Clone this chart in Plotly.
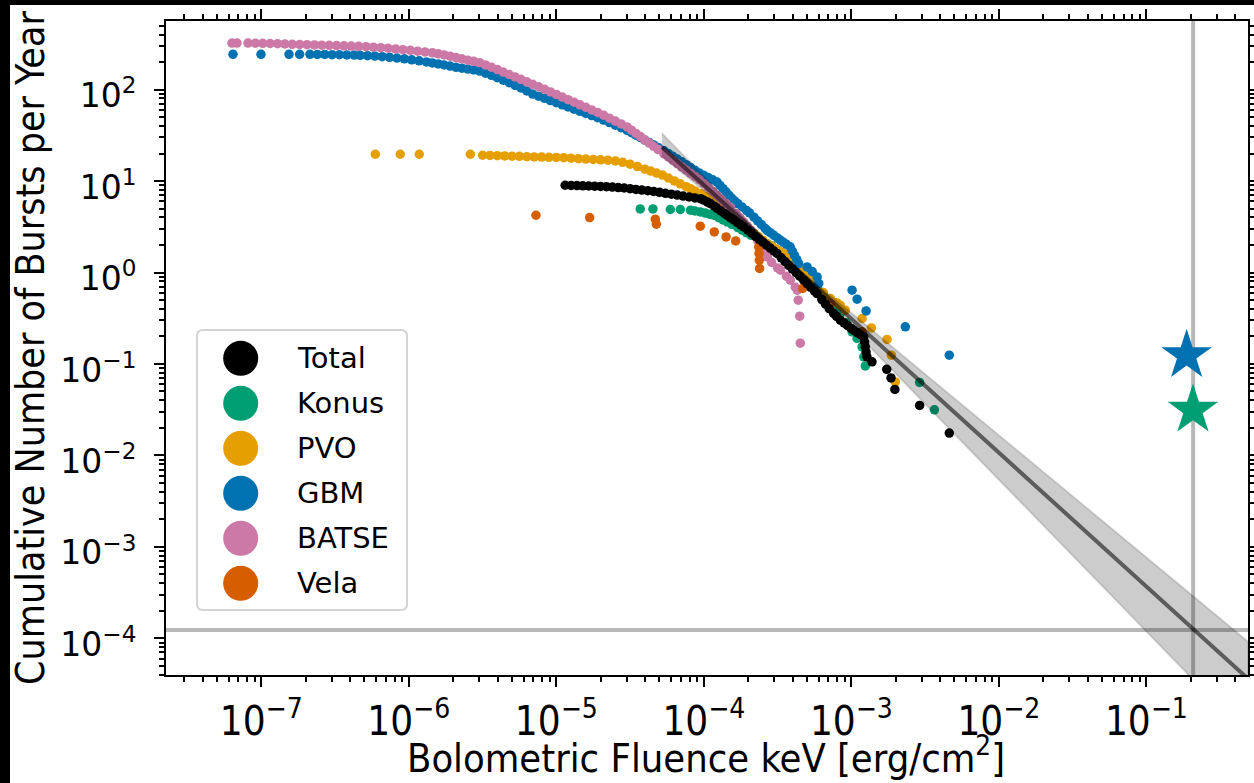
import numpy as np
import plotly.graph_objects as go

# values, stored as log10(fluence [erg/cm^2]) and log10(cumulative bursts / yr)
batse_logf = [-7.199, -7.165, -7.09, -7.04, -6.99, -6.94, -6.89, -6.84, -6.79, -6.74, -6.69, -6.64,
              -6.59, -6.54, -6.49, -6.44, -6.39, -6.34, -6.29, -6.24, -6.19, -6.14, -6.09, -6.04,
              -5.99, -5.94, -5.89, -5.84, -5.80, -5.76, -5.72, -5.68, -5.64, -5.60, -5.56, -5.52,
              -5.48, -5.44, -5.40, -5.36, -5.32, -5.28, -5.24, -5.20, -5.16, -5.12, -5.08, -5.04,
              -5.00, -4.96, -4.92, -4.88, -4.84, -4.80, -4.76, -4.72, -4.68, -4.64, -4.60, -4.56,
              -4.52, -4.49, -4.46, -4.43, -4.40, -4.37, -4.34, -4.31, -4.27, -4.24, -4.21, -4.18,
              -4.15, -4.12, -4.09, -4.06, -4.03, -4.00, -3.97, -3.94, -3.91, -3.88, -3.85, -3.82,
              -3.78, -3.755, -3.73, -3.705, -3.68, -3.65, -3.635, -3.62, -3.60, -3.585, -3.57,
              -3.54, -3.50, -3.48, -3.44, -3.414, -3.38, -3.366, -3.360, -3.350, -3.346]
batse_logn = [2.509, 2.509, 2.509, 2.508, 2.506, 2.504, 2.502, 2.499, 2.495, 2.493, 2.491, 2.488,
              2.486, 2.484, 2.481, 2.479, 2.476, 2.473, 2.469, 2.464, 2.458, 2.452, 2.445, 2.437,
              2.429, 2.420, 2.412, 2.402, 2.391, 2.379, 2.365, 2.350, 2.336, 2.322, 2.309, 2.294,
              2.270, 2.245, 2.219, 2.192, 2.165, 2.139, 2.112, 2.085, 2.058, 2.031, 2.003, 1.975,
              1.947, 1.918, 1.890, 1.862, 1.834, 1.806, 1.778, 1.750, 1.720, 1.688, 1.656, 1.624,
              1.592, 1.556, 1.521, 1.486, 1.450, 1.415, 1.380, 1.344, 1.297, 1.262, 1.226, 1.191,
              1.156, 1.121, 1.086, 1.051, 1.016, 0.974, 0.930, 0.886, 0.842, 0.798, 0.754, 0.710,
              0.644, 0.598, 0.552, 0.506, 0.460, 0.392, 0.350, 0.309, 0.253, 0.212, 0.170,
              0.110, 0.050, 0.025, -0.040, -0.084, -0.160, -0.193, -0.303, -0.478, -0.773]

gbm_logf = [-7.192, -7.002, -6.812, -6.740, -6.67, -6.62, -6.57, -6.52, -6.47, -6.42, -6.37, -6.33,
            -6.28, -6.23, -6.18, -6.13, -6.08, -6.03, -5.98, -5.93, -5.88, -5.84, -5.80, -5.76,
            -5.72, -5.68, -5.64, -5.60, -5.56, -5.52, -5.48, -5.44, -5.40, -5.36, -5.32, -5.28,
            -5.24, -5.20, -5.16, -5.12, -5.08, -5.04, -5.00, -4.96, -4.92, -4.88, -4.84, -4.80,
            -4.76, -4.72, -4.68, -4.64, -4.60, -4.56, -4.52, -4.49, -4.46, -4.43, -4.40, -4.37,
            -4.34, -4.31, -4.27, -4.24, -4.21, -4.18, -4.15, -4.12, -4.09, -4.06, -4.03, -4.00,
            -3.97, -3.94, -3.91, -3.89, -3.87, -3.85, -3.83, -3.81, -3.79, -3.77, -3.74, -3.71,
            -3.69, -3.66, -3.635, -3.61, -3.585, -3.57, -3.55, -3.525, -3.50, -3.48, -3.46, -3.44,
            -3.415, -3.40, -3.385, -3.37, -3.357, -3.30, -3.265, -3.232, -3.221, -2.995, -2.961,
            -2.900, -2.634, -2.336]
gbm_logn = [2.386, 2.386, 2.386, 2.386, 2.386, 2.385, 2.384, 2.382, 2.381, 2.379, 2.377, 2.375,
            2.371, 2.366, 2.360, 2.353, 2.345, 2.336, 2.326, 2.315, 2.303, 2.292, 2.281, 2.269,
            2.257, 2.244, 2.234, 2.224, 2.215, 2.202, 2.180, 2.156, 2.130, 2.103, 2.075, 2.047,
            2.018, 1.985, 1.951, 1.928, 1.904, 1.880, 1.857, 1.833, 1.810, 1.786, 1.762, 1.739,
            1.716, 1.693, 1.667, 1.639, 1.611, 1.583, 1.554, 1.528, 1.501, 1.475, 1.448, 1.422,
            1.395, 1.368, 1.330, 1.300, 1.270, 1.240, 1.210, 1.179, 1.149, 1.118, 1.088, 1.063,
            1.038, 1.014, 0.989, 0.952, 0.917, 0.882, 0.846, 0.811, 0.781, 0.754, 0.716, 0.677,
            0.651, 0.605, 0.564, 0.524, 0.483, 0.459, 0.436, 0.406, 0.376, 0.352, 0.330, 0.308,
            0.281, 0.235, 0.187, 0.140, 0.098, 0.061, 0.010, -0.048, -0.120, -0.193, -0.292,
            -0.420, -0.594, -0.904]

pvo_logf = [-6.227, -6.058, -5.929, -5.583, -5.50, -5.45, -5.40, -5.35, -5.30, -5.25, -5.20, -5.15,
            -5.10, -5.05, -5.00, -4.95, -4.90, -4.85, -4.80, -4.75, -4.70, -4.65, -4.60, -4.55,
            -4.50, -4.45, -4.40, -4.36, -4.32, -4.28, -4.24, -4.20, -4.16, -4.12, -4.09, -4.06,
            -4.02, -3.98, -3.95, -3.92, -3.89, -3.86, -3.84, -3.81, -3.78, -3.75, -3.72, -3.69,
            -3.66, -3.63, -3.60, -3.57, -3.54, -3.51, -3.48, -3.46, -3.43, -3.40, -3.37, -3.35,
            -3.32, -3.29, -3.26, -3.235, -3.19, -3.142, -3.10, -3.075, -3.041, -2.927, -2.864,
            -2.758, -2.729, -2.702]
pvo_logn = [1.293, 1.293, 1.293, 1.293, 1.282, 1.280, 1.277, 1.275, 1.272, 1.270, 1.267, 1.264,
            1.262, 1.260, 1.258, 1.255, 1.250, 1.245, 1.240, 1.236, 1.232, 1.228, 1.220, 1.205,
            1.185, 1.158, 1.130, 1.109, 1.087, 1.065, 1.032, 1.001, 0.970, 0.939, 0.916, 0.892,
            0.860, 0.828, 0.796, 0.764, 0.731, 0.699, 0.678, 0.635, 0.593, 0.552, 0.510, 0.469,
            0.430, 0.392, 0.353, 0.314, 0.286, 0.257, 0.228, 0.209, 0.161, 0.113, 0.064, 0.031,
            -0.017, -0.065, -0.114, -0.154, -0.220, -0.284, -0.330, -0.357, -0.412, -0.503, -0.606,
            -0.732, -0.904, -1.196]

konus_logf = [-4.431, -4.345, -4.227, -4.159, -4.09, -4.06, -4.024, -3.99, -3.96, -3.934, -3.90,
              -3.87, -3.84, -3.81, -3.77, -3.74, -3.71, -3.68, -3.63, -3.60, -3.57, -3.54, -3.50,
              -3.47, -3.44, -3.41, -3.37, -3.345, -3.32, -3.275, -3.25, -3.225, -3.20, -3.18,
              -3.14, -3.115, -3.09, -3.075, -3.035, -2.995, -2.961, -2.927, -2.916, -2.905,
              -2.537, -2.437]
konus_logn = [0.695, 0.695, 0.689, 0.689, 0.681, 0.673, 0.662, 0.650, 0.637, 0.626, 0.599,
              0.575, 0.551, 0.527, 0.491, 0.462, 0.434, 0.406, 0.363, 0.339, 0.315, 0.290, 0.244,
              0.204, 0.164, 0.123, 0.064, 0.024, -0.016, -0.095, -0.143, -0.190, -0.237, -0.275,
              -0.343, -0.384, -0.424, -0.448, -0.550, -0.649, -0.721, -0.813, -0.922, -1.021,
              -1.202, -1.502]

vela_logf = [-5.138, -4.774, -4.329, -4.322, -4.024, -3.929, -3.849, -3.784, -3.628, -3.626,
             -3.624, -3.622, -3.330, -3.142, -2.927]
vela_logn = [0.626, 0.601, 0.583, 0.528, 0.506, 0.444, 0.389, 0.345, 0.280, 0.208,
             0.134, 0.044, -0.175, -0.339, -0.649]

total_logf = [-4.94, -4.90, -4.86, -4.82, -4.78, -4.74, -4.70, -4.66, -4.62, -4.58, -4.54, -4.50,
              -4.46, -4.42, -4.38, -4.34, -4.30, -4.26, -4.22, -4.18, -4.14, -4.10, -4.06, -4.02,
              -4.00, -3.975, -3.956, -3.93, -3.91, -3.885, -3.86, -3.843, -3.82, -3.80, -3.775,
              -3.75, -3.730, -3.70, -3.675, -3.65, -3.625, -3.60, -3.575, -3.55, -3.525, -3.504,
              -3.475, -3.45, -3.425, -3.40, -3.375, -3.35, -3.323, -3.30, -3.275, -3.25, -3.233,
              -3.20, -3.175, -3.15, -3.12, -3.10, -3.075, -3.05, -3.025, -3.00, -2.984, -2.96,
              -2.94, -2.916, -2.910, -2.905, -2.900, -2.894, -2.860, -2.760, -2.731, -2.705,
              -2.537, -2.336]
total_logn = [0.954, 0.952, 0.950, 0.948, 0.946, 0.944, 0.941, 0.938, 0.934, 0.929, 0.924, 0.917,
              0.908, 0.901, 0.894, 0.886, 0.877, 0.866, 0.857, 0.847, 0.836, 0.826, 0.816, 0.806,
              0.790, 0.770, 0.754, 0.725, 0.702, 0.674, 0.646, 0.626, 0.600, 0.577, 0.549,
              0.521, 0.498, 0.460, 0.428, 0.395, 0.363, 0.331, 0.299, 0.267, 0.235, 0.208,
              0.161, 0.120, 0.079, 0.039, -0.001, -0.041, -0.084, -0.121, -0.162, -0.202, -0.230,
              -0.296, -0.346, -0.396, -0.448, -0.480, -0.521, -0.551, -0.581, -0.611, -0.631, -0.657,
              -0.678, -0.704, -0.760, -0.813, -0.870, -0.922, -0.977, -1.059, -1.153, -1.279,
              -1.454, -1.756]

# power-law fit and its band (polygon: steep edge / shallow edge crossing at the pivot)
fit_fluence = [5.2e-5, 0.49]
fit_rate = [23.6, 3.6e-5]
band_fluence = [5.2e-5, 3.05e-4, 0.49, 0.49, 3.05e-4, 5.2e-5]
band_rate = [33.4, 1.77, 9.2e-5, 8.5e-6, 1.77, 18.8]

# reference lines and the two events marked with stars
ref_fluence = 0.2075
ref_rate = 1.23e-4
star_fluence = [0.1875, 0.207]
star_rate = [0.124, 0.0313]
star_colors = ["#0072B2", "#009E73"]

legend_names = ["Total", "Konus", "PVO", "GBM", "BATSE", "Vela"]
legend_colors = ["#000000", "#009E73", "#E69F00", "#0072B2", "#CC79A7", "#D55E00"]

x_tickvals = [1e-7, 1e-6, 1e-5, 1e-4, 1e-3, 1e-2, 1e-1]
x_ticktext = ["10<sup>\u22127</sup>", "10<sup>\u22126</sup>", "10<sup>\u22125</sup>", "10<sup>\u22124</sup>",
              "10<sup>\u22123</sup>", "10<sup>\u22122</sup>", "10<sup>\u22121</sup>"]
y_tickvals = [1e-4, 1e-3, 1e-2, 1e-1, 1e0, 1e1, 1e2]
y_ticktext = ["10<sup>\u22124</sup>", "10<sup>\u22123</sup>", "10<sup>\u22122</sup>", "10<sup>\u22121</sup>",
              "10<sup>0</sup>", "10<sup>1</sup>", "10<sup>2</sup>"]

W, H = 1254, 783
L, R, T, B = 166, 6, 21, 108
pw, ph = W - L - R, H - T - B


def pxx(x):
    return (x - L) / pw


def pxy(y):
    return (H - B - y) / ph


COND = "DejaVu Sans Condensed, Liberation Sans Narrow, DejaVu Sans"
SANS = "DejaVu Sans"

fig = go.Figure()

series = [
    (konus_logf, konus_logn, "#009E73"),
    (pvo_logf, pvo_logn, "#E69F00"),
    (gbm_logf, gbm_logn, "#0072B2"),
    (batse_logf, batse_logn, "#CC79A7"),
    (vela_logf, vela_logn, "#D55E00"),
    (total_logf, total_logn, "#000000"),
]
for lf, ln, col in series:
    fig.add_trace(go.Scatter(x=10 ** np.array(lf), y=10 ** np.array(ln), mode="markers",
                             marker=dict(size=9.5, color=col, line_width=0), showlegend=False))

fig.add_trace(go.Scatter(x=band_fluence, y=band_rate, mode="lines", fill="toself",
                         fillcolor="rgba(0,0,0,0.2)", line=dict(color="rgba(0,0,0,0.13)", width=2),
                         showlegend=False))
fig.add_trace(go.Scatter(x=fit_fluence, y=fit_rate, mode="lines",
                         line=dict(color="rgba(0,0,0,0.55)", width=4), showlegend=False))
fig.add_trace(go.Scatter(x=[ref_fluence, ref_fluence], y=[1e-6, 1e4], mode="lines",
                         line=dict(color="rgba(0,0,0,0.28)", width=4), showlegend=False))
fig.add_trace(go.Scatter(x=[1e-9, 10], y=[ref_rate, ref_rate], mode="lines",
                         line=dict(color="rgba(0,0,0,0.28)", width=4), showlegend=False))
fig.add_trace(go.Scatter(x=star_fluence, y=star_rate, mode="markers",
                         marker=dict(symbol="star", size=38, color=star_colors, line_width=0),
                         showlegend=False))

# legend box drawn by hand so the markers can be as large as in the original
x0, x1, y0, y1 = pxx(197), pxx(407), pxy(610), pxy(330)
rx, ry = 6 / pw, 6 / ph
box = (f"M {x0+rx},{y0} L {x1-rx},{y0} Q {x1},{y0} {x1},{y0+ry} L {x1},{y1-ry} "
       f"Q {x1},{y1} {x1-rx},{y1} L {x0+rx},{y1} Q {x0},{y1} {x0},{y1-ry} "
       f"L {x0},{y0+ry} Q {x0},{y0} {x0+rx},{y0} Z")
shapes = [dict(type="path", path=box, xref="paper", yref="paper", layer="above",
               fillcolor="rgba(255,255,255,0.85)", line=dict(color="#d4d4d4", width=2))]
annotations = []
for i, (name, col) in enumerate(zip(legend_names, legend_colors)):
    yc = pxy(358.3 + 45 * i)
    shapes.append(dict(type="circle", xref="paper", yref="paper", layer="above",
                       xsizemode="pixel", ysizemode="pixel", xanchor=pxx(240.7), yanchor=yc,
                       x0=-17.5, x1=17.5, y0=-17.5, y1=17.5, fillcolor=col, line_width=0))
    annotations.append(dict(text=name, xref="paper", yref="paper", x=pxx(295), y=yc,
                            xanchor="left", yanchor="middle", showarrow=False,
                            font=dict(family=SANS, size=29, color="black")))

# black border of the original screenshot
shapes.append(dict(type="rect", xref="paper", yref="paper", layer="above",
                   x0=pxx(0), x1=pxx(W), y0=pxy(5), y1=pxy(0), fillcolor="black", line_width=0))
shapes.append(dict(type="rect", xref="paper", yref="paper", layer="above",
                   x0=pxx(0), x1=pxx(10), y0=pxy(H), y1=pxy(0), fillcolor="black", line_width=0))

annotations.append(dict(text="Cumulative Number of Bursts per Year", xref="paper", yref="paper",
                        x=pxx(30), y=0.5, textangle=-90, showarrow=False,
                        xanchor="center", yanchor="middle",
                        font=dict(family=COND, size=39, color="black")))
annotations.append(dict(text="Bolometric Fluence keV [erg/cm<sup>2</sup>]", xref="paper", yref="paper",
                        x=pxx(706), y=pxy(783), showarrow=False,
                        xanchor="center", yanchor="bottom",
                        font=dict(family=COND, size=39.5, color="black")))

axis_common = dict(type="log", showline=True, linewidth=2, linecolor="black", mirror="allticks",
                   ticks="outside", ticklen=10, tickwidth=2, tickcolor="black",
                   showgrid=False, zeroline=False, automargin=False,
                   minor=dict(ticks="outside", ticklen=5, tickwidth=1.5, tickcolor="black",
                              dtick="D1", showgrid=False))

fig.update_layout(
    width=W, height=H,
    margin=dict(l=L, r=R, t=T, b=B, autoexpand=False),
    paper_bgcolor="white", plot_bgcolor="white",
    xaxis=dict(range=[-7.646, -0.311], tickmode="array", tickvals=x_tickvals, ticktext=x_ticktext,
               tickfont=dict(family=COND, size=40, color="black"), **axis_common),
    yaxis=dict(range=[-4.401, 2.75], tickmode="array", tickvals=y_tickvals, ticktext=y_ticktext,
               tickfont=dict(family=SANS, size=33, color="black"), ticklabelstandoff=11,
               ticklabelshift=6, **axis_common),
    shapes=shapes,
    annotations=annotations,
    showlegend=False,
)

# the page's default body margin would shift the figure, so drop it
page_fix = ("document.documentElement.style.margin='0px';document.documentElement.style.overflow='hidden';"
            "document.body.style.margin='0px';document.body.style.padding='0px';"
            "document.body.style.overflow='hidden';")
fig.write_html("out.html", config={"displayModeBar": False}, post_script=page_fix)
